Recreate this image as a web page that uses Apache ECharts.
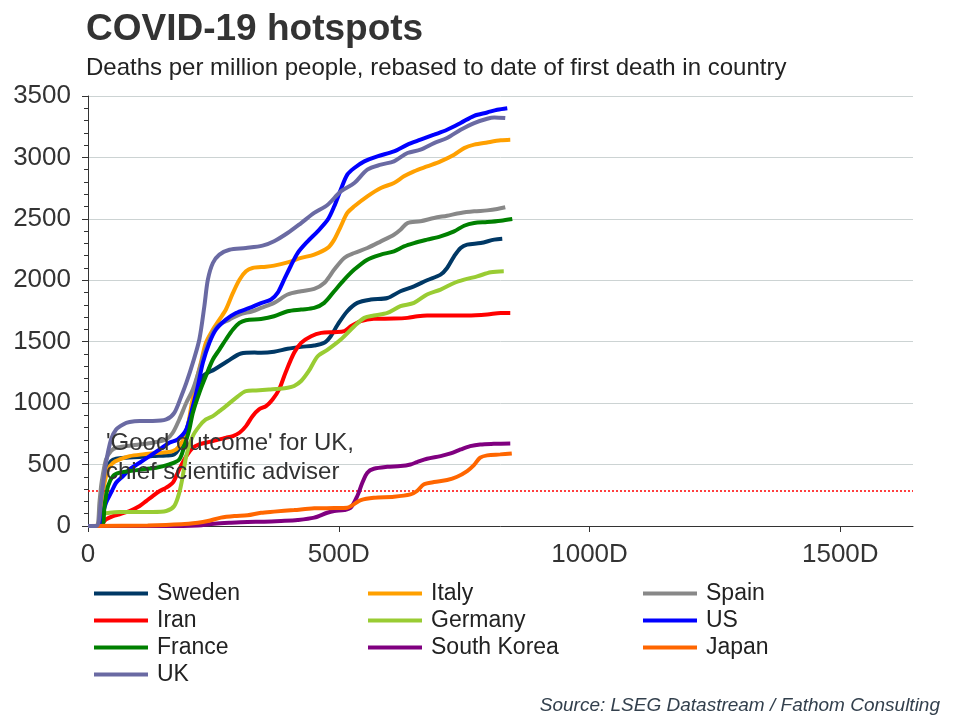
<!DOCTYPE html>
<html>
<head>
<meta charset="utf-8">
<script src="https://cdn.jsdelivr.net/npm/echarts@6/dist/echarts.min.js"></script>
<style>
html,body{margin:0;padding:0;background:#fff;}
#chart{width:960px;height:720px;}
</style>
</head>
<body>
<div id="chart"></div>
<script>
// Days since first death, deaths per million
const countries = ['Sweden','Italy','Spain','Iran','Germany','US','France','South Korea','Japan','UK'];
const colors = ['#003865','#ffa000','#888888','#ff0000','#99cc33','#0000ff','#008000','#800080','#ff6600','#6a6aa3'];

const sweden = [[0,0],[20,0],[30,298],[36,461],[46,529],[56,547],[76,556],[103,561],[129,569],[156,574],[172,583],[189,690],[202,867],[215,1080],[229,1220],[252,1274],[278,1341],[305,1404],[332,1412],[345,1410],[371,1418],[398,1442],[425,1458],[451,1469],[471,1491],[484,1545],[498,1640],[517,1748],[537,1816],[564,1843],[597,1856],[623,1911],[650,1951],[676,2000],[703,2046],[716,2100],[730,2195],[743,2263],[756,2290],[783,2303],[810,2331],[826,2339]];
const italy = [[0,0],[20,0],[27,190],[33,352],[40,461],[50,515],[63,542],[83,569],[109,583],[143,596],[169,610],[182,650],[196,759],[206,976],[215,1165],[225,1328],[235,1491],[249,1599],[262,1680],[275,1762],[289,1897],[302,2005],[315,2073],[328,2100],[355,2110],[371,2119],[398,2146],[425,2182],[451,2209],[478,2263],[491,2331],[504,2439],[517,2548],[531,2602],[557,2683],[584,2751],[610,2792],[630,2846],[650,2887],[676,2927],[703,2968],[730,3022],[750,3076],[770,3104],[796,3122],[823,3139],[842,3144]];
const spain = [[0,0],[17,0],[23,200],[27,352],[36,542],[46,610],[56,637],[76,650],[103,664],[129,678],[156,705],[169,759],[182,867],[196,1003],[209,1111],[222,1274],[232,1409],[242,1518],[252,1599],[262,1640],[282,1680],[302,1721],[328,1748],[345,1775],[371,1816],[398,1884],[425,1911],[451,1930],[471,1978],[491,2087],[511,2182],[531,2222],[557,2263],[584,2317],[610,2371],[623,2412],[637,2466],[663,2480],[690,2507],[716,2526],[743,2548],[770,2561],[796,2569],[816,2580],[832,2594]];
const iran = [[0,0],[23,0],[27,14],[36,54],[50,81],[63,95],[83,122],[103,163],[116,203],[129,244],[143,285],[156,312],[169,352],[176,407],[182,461],[196,569],[209,637],[222,664],[235,678],[249,691],[262,705],[275,718],[289,732],[302,759],[315,813],[328,894],[341,949],[355,976],[368,1030],[381,1111],[394,1250],[411,1410],[425,1491],[445,1545],[465,1572],[491,1578],[511,1586],[524,1626],[544,1667],[570,1686],[610,1688],[637,1694],[657,1707],[676,1713],[756,1713],[796,1721],[823,1734],[842,1734]];
const germany = [[0,0],[23,0],[30,95],[43,108],[63,114],[96,114],[129,114],[156,122],[172,163],[182,271],[189,407],[196,569],[209,732],[222,813],[235,867],[249,894],[262,935],[275,976],[295,1043],[315,1098],[335,1103],[361,1111],[381,1117],[398,1125],[411,1140],[425,1180],[440,1260],[458,1382],[478,1436],[504,1518],[531,1626],[551,1694],[570,1713],[597,1734],[623,1789],[650,1816],[676,1884],[703,1924],[730,1978],[750,2005],[776,2032],[803,2065],[829,2073]];
const us = [[0,0],[23,0],[30,108],[36,190],[46,271],[56,352],[70,407],[83,461],[103,515],[123,569],[143,623],[162,678],[179,705],[196,786],[209,975],[219,1138],[229,1328],[242,1491],[255,1599],[275,1680],[295,1734],[322,1775],[345,1815],[365,1843],[378,1897],[391,2005],[404,2114],[418,2222],[438,2317],[458,2399],[478,2493],[491,2602],[504,2738],[517,2860],[531,2914],[551,2968],[577,3009],[610,3049],[637,3104],[663,3144],[690,3185],[716,3225],[743,3280],[770,3339],[796,3366],[816,3388],[836,3401]];
const france = [[0,0],[27,0],[33,163],[40,325],[50,407],[63,434],[83,447],[109,461],[136,474],[162,501],[182,542],[192,650],[202,786],[209,921],[222,1084],[235,1220],[249,1355],[262,1436],[275,1518],[289,1599],[302,1653],[315,1675],[345,1685],[371,1707],[398,1748],[425,1762],[451,1775],[471,1816],[491,1911],[511,2005],[531,2087],[557,2168],[584,2209],[610,2236],[630,2276],[650,2303],[676,2331],[703,2358],[730,2398],[750,2444],[770,2466],[796,2474],[823,2485],[846,2499]];
const southKorea = [[0,0],[152,0],[219,5],[252,19],[285,27],[318,33],[351,35],[385,41],[418,49],[451,68],[477,108],[491,122],[511,130],[524,149],[537,244],[547,352],[557,434],[570,466],[597,482],[623,488],[643,501],[656,520],[676,547],[703,569],[723,591],[743,623],[762,650],[782,664],[809,669],[842,672]];
const japan = [[0,0],[119,5],[186,14],[219,27],[239,41],[265,68],[292,81],[318,87],[345,108],[371,117],[411,130],[451,144],[491,146],[517,149],[530,176],[544,211],[570,230],[610,238],[643,257],[656,285],[670,339],[690,358],[716,374],[736,401],[756,447],[769,493],[782,556],[796,575],[822,583],[845,591]];
const uk = [[0,0],[17,0],[27,244],[36,515],[46,705],[56,786],[70,827],[83,846],[103,854],[129,854],[156,867],[172,921],[186,1057],[196,1165],[209,1328],[222,1518],[232,1789],[239,2005],[249,2141],[262,2209],[282,2249],[315,2263],[348,2282],[371,2318],[398,2385],[425,2466],[451,2548],[478,2615],[504,2724],[531,2792],[557,2900],[584,2941],[610,2968],[637,3036],[663,3063],[690,3117],[716,3158],[743,3225],[770,3280],[796,3315],[810,3325],[832,3320]];

const seriesData = [sweden, italy, spain, iran, germany, us, france, southKorea, japan, uk];
const goodOutcome = 290;
const xTicks = [0, 500, 1000, 1500];
const xMax = 1645;
const yTicks = [0, 500, 1000, 1500, 2000, 2500, 3000, 3500];

const legendCols = [['Sweden','Iran','France','UK'], ['Italy','Germany','South Korea'], ['Spain','US','Japan']];
const legendLeft = [94, 368, 643];

const FONT = '"Liberation Sans", Arial, sans-serif';
const chart = echarts.init(document.getElementById('chart'));

const series = countries.map((name, i) => ({
  name: name,
  type: 'line',
  data: seriesData[i],
  showSymbol: false,
  symbol: 'none',
  smooth: 0.3,
  lineStyle: { width: 4, color: colors[i] },
  itemStyle: { color: colors[i] },
  z: 3 + i
}));
series.push({
  name: 'goodOutcome',
  type: 'line',
  data: [],
  silent: true,
  markLine: {
    silent: true,
    symbol: 'none',
    label: { show: false },
    lineStyle: { color: '#ff0000', type: [2, 2], width: 1.5 },
    data: [{ yAxis: goodOutcome }]
  },
  z: 2
});

const legends = legendCols.map((col, i) => ({
  orient: 'vertical',
  left: legendLeft[i],
  top: 582,
  padding: 0,
  data: col,
  icon: 'rect',
  itemWidth: 54,
  itemHeight: 4,
  itemGap: 4,
  textStyle: { fontSize: 23, color: '#222', fontFamily: FONT, lineHeight: 20, padding: [0, 0, 0, 4] },
  selectedMode: false
}));

chart.setOption({
  animation: false,
  backgroundColor: '#fff',
  textStyle: { fontFamily: FONT },
  title: {
    text: 'COVID-19 hotspots',
    subtext: 'Deaths per million people, rebased to date of first death in country',
    left: 81,
    top: 6,
    itemGap: 8,
    textStyle: { fontSize: 37, fontWeight: 'bold', color: '#333', fontFamily: FONT },
    subtextStyle: { fontSize: 24, color: '#222', fontFamily: FONT }
  },
  legend: legends,
  grid: { left: 88, right: 47, top: 96, bottom: 194, containLabel: false },
  xAxis: {
    type: 'value',
    min: 0,
    max: xMax,
    interval: 500,
    axisLine: { show: true, lineStyle: { color: '#333', width: 1 } },
    axisTick: { show: true, length: 6, lineStyle: { color: '#333' }, customValues: xTicks },
    axisLabel: {
      fontSize: 26, color: '#333', margin: 16, customValues: xTicks,
      formatter: v => (v === 0 ? '0' : v + 'D')
    },
    splitLine: { show: false }
  },
  yAxis: {
    type: 'value',
    min: 0,
    max: 3500,
    interval: 500,
    axisLine: { show: true, lineStyle: { color: '#333', width: 1 } },
    axisTick: { show: true, length: 6, lineStyle: { color: '#333' } },
    minorTick: { show: true, splitNumber: 5, length: 4, lineStyle: { color: '#333' } },
    axisLabel: { fontSize: 26, color: '#333', margin: 17, customValues: yTicks, formatter: v => String(v) },
    splitLine: { show: true, lineStyle: { color: '#ccd3d3', width: 1 } }
  },
  graphic: [
    {
      type: 'text',
      left: 106,
      top: 429,
      z: 100,
      style: {
        text: "'Good outcome' for UK,\nchief scientific adviser",
        fontSize: 24,
        lineHeight: 29,
        fill: '#333',
        fontFamily: FONT
      }
    },
    {
      type: 'text',
      right: 20,
      top: 696,
      style: {
        text: 'Source: LSEG Datastream / Fathom Consulting',
        fontSize: 19,
        fontStyle: 'italic',
        fill: '#33404d',
        fontFamily: FONT
      }
    }
  ],
  series: series
});
</script>
</body>
</html>
